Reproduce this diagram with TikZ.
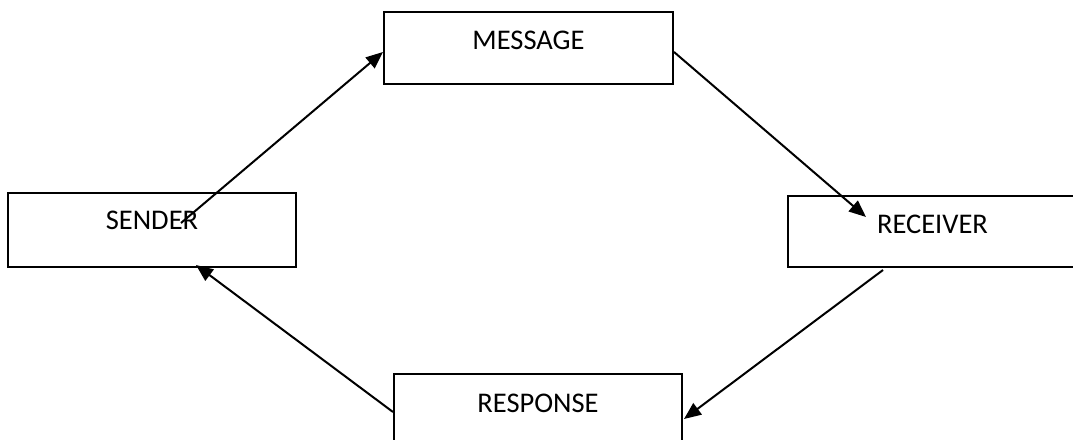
\documentclass[tikz,border=0pt]{standalone}
\usepackage{fontspec}
\setmainfont{Carlito}
\usetikzlibrary{arrows.meta}
\begin{document}
\begin{tikzpicture}[x=1pt,y=1pt,
  box/.style={draw=black, line width=2pt, fill=white, rectangle, inner sep=0pt},
  lbl/.style={anchor=base, inner sep=0pt, font=\fontsize{28.5}{34}\selectfont},
  conn/.style={line width=2pt, -{Triangle[length=17pt,width=14pt]}}]
\useasboundingbox (0,0) rectangle (1073,439);
\clip (0,0) rectangle (1073,439);
\fill[white] (0,0) rectangle (1073,439);

\node[box, minimum width=289, minimum height=72] (message) at (528.5,391) {};
\node[box, minimum width=288, minimum height=74] (sender) at (152,209) {};
\node[box, minimum width=289, minimum height=71] (receiver) at (932.5,207.5) {};
\node[box, minimum width=288, minimum height=72] (response) at (538,29) {};

\node[lbl] (tmessage) at ([yshift=-39]message.north) {MESSAGE};
\node[lbl] (tsender) at ([yshift=-38]sender.north) {SENDER};
\node[lbl] (treceiver) at ([yshift=-39]receiver.north) {RECEIVER};
\node[lbl] (tresponse) at ([yshift=-39]response.north) {RESPONSE};

\coordinate (sstart) at ([xshift=29,yshift=7]sender.center);
\coordinate (rend) at ([xshift=-66.5,yshift=14.5]receiver.center);

\draw[conn] (sstart) -- ([yshift=-4]message.west);
\draw[conn] ([yshift=-4]message.east) -- (rend);
\draw[conn] ([xshift=-49.5,yshift=-2]receiver.south) -- ([xshift=1,yshift=-9]response.east);
\draw[conn] ([yshift=-2]response.west) -- ([xshift=44,yshift=3]sender.south);
\end{tikzpicture}
\end{document}
